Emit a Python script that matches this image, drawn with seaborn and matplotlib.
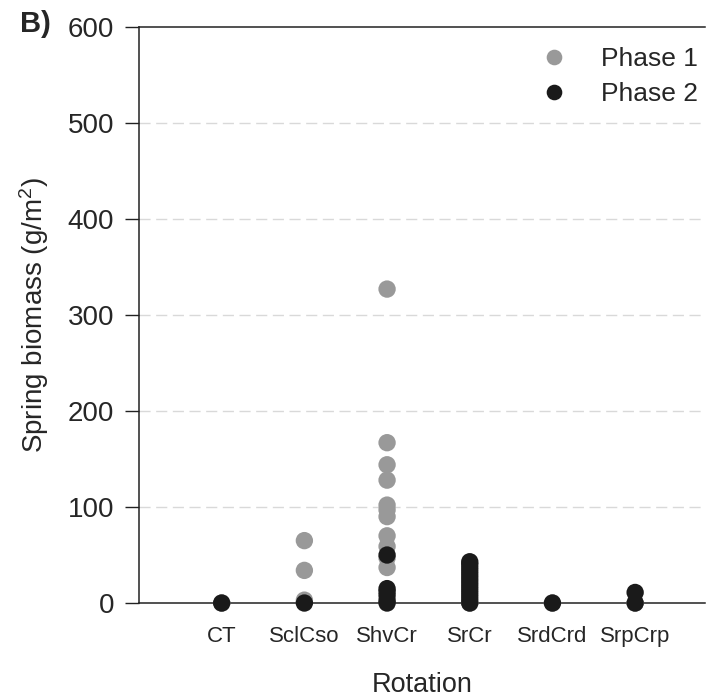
import numpy as np
import pandas as pd
import matplotlib
matplotlib.use('Agg')
import matplotlib.pyplot as plt
import seaborn as sns

# rotations on the x axis
rotations = ['CT', 'SclCso', 'ShvCr', 'SrCr', 'SrdCrd', 'SrpCrp']

# spring biomass (g/m2), per rotation and phase
phase1 = {
    'CT': [0],
    'SclCso': [65, 34, 3],
    'ShvCr': [327, 167, 144, 128, 102, 97, 90, 70, 59, 47, 37],
    'SrCr': [0],
    'SrdCrd': [0],
    'SrpCrp': [0],
}
phase2 = {
    'CT': [0],
    'SclCso': [0],
    'ShvCr': [50, 15, 12, 8, 3, 0],
    'SrCr': [43, 40, 36, 32, 28, 24, 20, 16, 12, 8, 4, 0],
    'SrdCrd': [0],
    'SrpCrp': [11, 0],
}

rows = []
for name, d in [('Phase 1', phase1), ('Phase 2', phase2)]:
    for rot in rotations:
        for v in d[rot]:
            rows.append({'Rotation': rot, 'Biomass': v, 'Phase': name})
df = pd.DataFrame(rows)

sns.set_style('white')
plt.rcParams['font.family'] = ['Liberation Sans', 'DejaVu Sans']
plt.rcParams['mathtext.fontset'] = 'custom'
plt.rcParams['mathtext.rm'] = 'Liberation Sans'
plt.rcParams['mathtext.it'] = 'Liberation Sans:italic'

fig = plt.figure(figsize=(7.07, 6.99), dpi=100)
ax = fig.add_axes([0.1966, 0.1373, 0.8, 0.8241])

sns.stripplot(data=df, x='Rotation', y='Biomass', hue='Phase', order=rotations,
              hue_order=['Phase 1', 'Phase 2'],
              palette={'Phase 1': '#999999', 'Phase 2': '#1a1a1a'},
              jitter=False, dodge=False, size=12.5, linewidth=0, ax=ax,
              clip_on=False, zorder=3)

ax.set_xlim(-1, 5.84)
ax.set_ylim(0, 600)
ax.set_yticks(range(0, 601, 100))
for y in range(100, 600, 100):
    ax.axhline(y, color='#d9d9d9', lw=1, ls=(0, (8, 4)), zorder=0)

for s in ['left', 'bottom', 'top']:
    ax.spines[s].set_color('#222222')
    ax.spines[s].set_linewidth(1.1)
ax.spines['right'].set_visible(False)

ax.tick_params(axis='y', left=True, direction='out', length=10, width=1,
               color='#222222', labelsize=20, pad=8)
ax.tick_params(axis='x', bottom=False, labelsize=16, pad=13)

ax.set_xlabel('Rotation', fontsize=19.5, labelpad=18)
ax.set_ylabel('Spring biomass (g/m$^2$)', fontsize=20, labelpad=12)

leg = ax.legend(loc='upper right', frameon=False, fontsize=19, handletextpad=0.8,
                markerscale=0.9, borderaxespad=0, borderpad=0, labelspacing=0.42,
                bbox_to_anchor=(698 / 707, 1 - 47 / 699),
                bbox_transform=fig.transFigure)

fig.text(20 / 707, 1 - 32 / 699, 'B)', fontsize=21, fontweight='bold',
         va='baseline')

fig.savefig('out.png', dpi=100)
